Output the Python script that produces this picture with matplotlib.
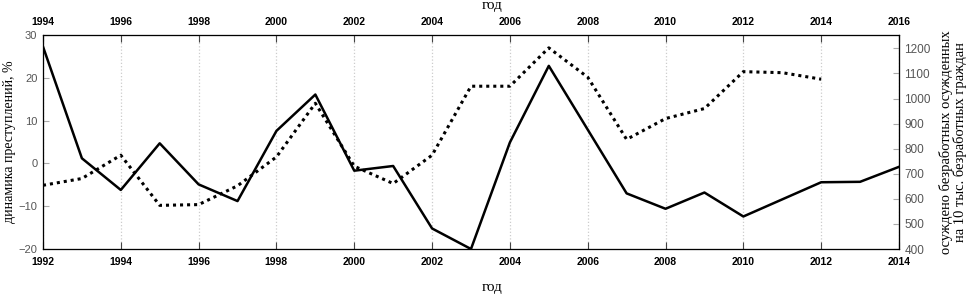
import matplotlib.pyplot as plt

# динамика преступлений (%), нижняя ось лет
years_crime = list(range(1992, 2015))
crime_dyn = [27.3, 1.2, -6.2, 4.7, -4.9, -8.8, 7.6, 16.1, -1.7, -0.6, -15.2, -20.0,
             4.9, 22.8, 7.9, -7.0, -10.6, -6.8, -12.4, -8.4, -4.4, -4.3, -0.8]

# осуждено безработных на 10 тыс. безработных, верхняя ось лет
years_conv = list(range(1994, 2015))
convicted = [654, 681, 774, 574, 577, 652, 767, 981, 730, 661, 774, 1049,
             1049, 1202, 1085, 837, 920, 960, 1107, 1103, 1077]

serif = 'Liberation Serif'
sans = 'Liberation Sans'

fig, ax = plt.subplots(figsize=(9.68, 2.97), dpi=100)
fig.subplots_adjust(left=0.0444, right=0.9287, bottom=0.1616, top=0.882)

ax.plot(years_crime, crime_dyn, color='black', lw=1.8, zorder=3)
ax.set_xlim(1992, 2014)
ax.set_ylim(-20, 30)
ax.set_xticks(range(1992, 2015, 2))
ax.set_yticks(range(-20, 31, 10))
ax.grid(axis='x', color='#cccccc', linestyle=':', lw=0.9)
ax.tick_params(axis='x', direction='in', length=5, color='#444444', pad=6)
ax.tick_params(axis='y', direction='in', length=4, color='#aaaaaa', pad=4,
               labelcolor='#555555')
for lab in ax.get_xticklabels():
    lab.set_fontfamily(sans)
    lab.set_fontweight('bold')
    lab.set_fontsize(7.5)
for lab in ax.get_yticklabels():
    lab.set_fontfamily(sans)
    lab.set_fontsize(8)
ax.set_xlabel('год', fontfamily=serif, fontsize=11)
ax.xaxis.set_label_coords(0.525, -0.15)
ax.set_ylabel('динамика преступлений, %', fontfamily=serif, fontsize=10)
ax.yaxis.set_label_coords(-0.031, 0.5)
ax.spines['left'].set_color('#888888')
ax.spines['bottom'].set_color('#555555')
ax.spines['top'].set_color('#555555')

ax_r = ax.twinx()
ax_t = ax_r.twiny()
ax_t.plot(years_conv, convicted, color='black', lw=2.2, linestyle=(0, (1, 1.3)), zorder=3)
ax_t.set_xlim(1994, 2016)
ax_t.set_xticks(range(1994, 2017, 2))
ax_r.set_ylim(400, 1253)
ax_r.set_yticks(range(400, 1201, 100))
ax_r.tick_params(axis='y', direction='in', length=4, color='#aaaaaa', pad=4,
                 labelcolor='#555555')
ax_t.tick_params(axis='x', direction='in', length=5, color='#444444', pad=6)
for lab in ax_t.get_xticklabels():
    lab.set_fontfamily(sans)
    lab.set_fontweight('bold')
    lab.set_fontsize(7.5)
for lab in ax_r.get_yticklabels():
    lab.set_fontfamily(sans)
    lab.set_fontsize(8.5)
ax_t.set_xlabel('год', fontfamily=serif, fontsize=11)
ax_t.xaxis.set_label_coords(0.525, 1.12)
ax_r.set_ylabel('осуждено безработных осужденных\nна 10 тыс. безработных граждан',
                fontfamily=serif, fontsize=10.5, linespacing=1.0, labelpad=6)
ax_r.spines['right'].set_color('black')

plt.savefig('out.png', dpi=100)
